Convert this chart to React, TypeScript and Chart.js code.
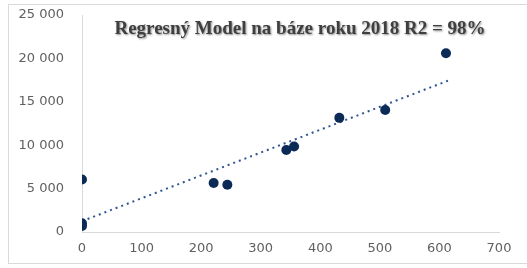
import React, { useEffect, useRef } from "react";
import { Chart, registerables } from "chart.js";

Chart.register(...registerables);

const xValues = [0, 0, 0, 221, 244, 343, 356, 432, 509, 611];
const yValues = [6050, 1000, 700, 5650, 5450, 9450, 9850, 13150, 14050, 20600];
const trendX = [0, 617];
const trendY = [1250, 17500];
const titleText = "Regresný Model na báze roku 2018 R2 = 98%";

const fmt = (v: number) => {
  const s = String(Math.round(v));
  return s.replace(/\B(?=(\d{3})+(?!\d))/g, " ");
};

const titlePlugin = {
  id: "overlayTitle",
  afterDraw(chart: any) {
    const ctx = chart.ctx;
    ctx.save();
    ctx.font = "bold 19px 'Liberation Serif', serif";
    ctx.textAlign = "center";
    ctx.textBaseline = "middle";
    ctx.shadowColor = "rgba(0,0,0,0.45)";
    ctx.shadowBlur = 2;
    ctx.shadowOffsetX = 1;
    ctx.shadowOffsetY = 1;
    ctx.fillStyle = "#3f3f3f";
    ctx.fillText(titleText, 300, 29);
    ctx.restore();
  },
};

export default function App() {
  const ref = useRef<HTMLCanvasElement | null>(null);
  useEffect(() => {
    if (!ref.current) return;
    const chart = new Chart(ref.current, {
      type: "scatter",
      data: {
        datasets: [
          {
            label: "data",
            data: xValues.map((x, i) => ({ x, y: yValues[i] })),
            backgroundColor: "#0b2a55",
            borderWidth: 0,
            pointRadius: 5,
            order: 1,
          },
          {
            label: "trend",
            type: "line",
            data: trendX.map((x, i) => ({ x, y: trendY[i] })),
            borderColor: "#2f5694",
            borderWidth: 2,
            borderDash: [2, 4],
            pointRadius: 0,
            fill: false,
            order: 2,
          } as any,
        ],
      },
      options: {
        animation: false,
        responsive: false,
        maintainAspectRatio: false,
        layout: { padding: { left: 10, right: 28, top: 15, bottom: 0 } },
        plugins: {
          legend: { display: false },
          tooltip: { enabled: false },
          title: { display: false },
        },
        scales: {
          x: {
            type: "linear",
            min: 0,
            max: 700,
            ticks: {
              stepSize: 100,
              padding: 2,
              color: "#606060",
              font: { family: "'DejaVu Sans'", size: 13 },
              callback: (v: any) => fmt(Number(v)),
            },
            grid: { display: true, drawOnChartArea: false, drawTicks: true, tickLength: 7, color: "rgba(0,0,0,0)" },
            border: { display: true, color: "#d9d9d9", width: 1 },
            afterFit: (s: any) => {
              s.height = 36;
            },
          },
          y: {
            type: "linear",
            min: 0,
            max: 25000,
            ticks: {
              stepSize: 5000,
              padding: 2,
              color: "#606060",
              font: { family: "'DejaVu Sans'", size: 13 },
              callback: (v: any) => fmt(Number(v)),
            },
            grid: { display: true, drawOnChartArea: false, drawTicks: true, tickLength: 16, color: "rgba(0,0,0,0)" },
            border: { display: true, color: "#d9d9d9", width: 1 },
            afterFit: (s: any) => {
              s.width = 72;
            },
          },
        },
      },
      plugins: [titlePlugin],
    });
    return () => chart.destroy();
  }, []);
  return (
    <div style={{ position: "fixed", left: 0, top: 0, width: 527, height: 268, background: "#fff", overflow: "hidden" }}>
      <div
        style={{
          position: "absolute",
          left: 8,
          top: 4,
          width: 560,
          height: 258,
          border: "1px solid #d9d9d9",
        }}
      />
      <canvas ref={ref} width={527} height={268} style={{ position: "absolute", left: 0, top: 0, width: 527, height: 268 }} />
    </div>
  );
}
